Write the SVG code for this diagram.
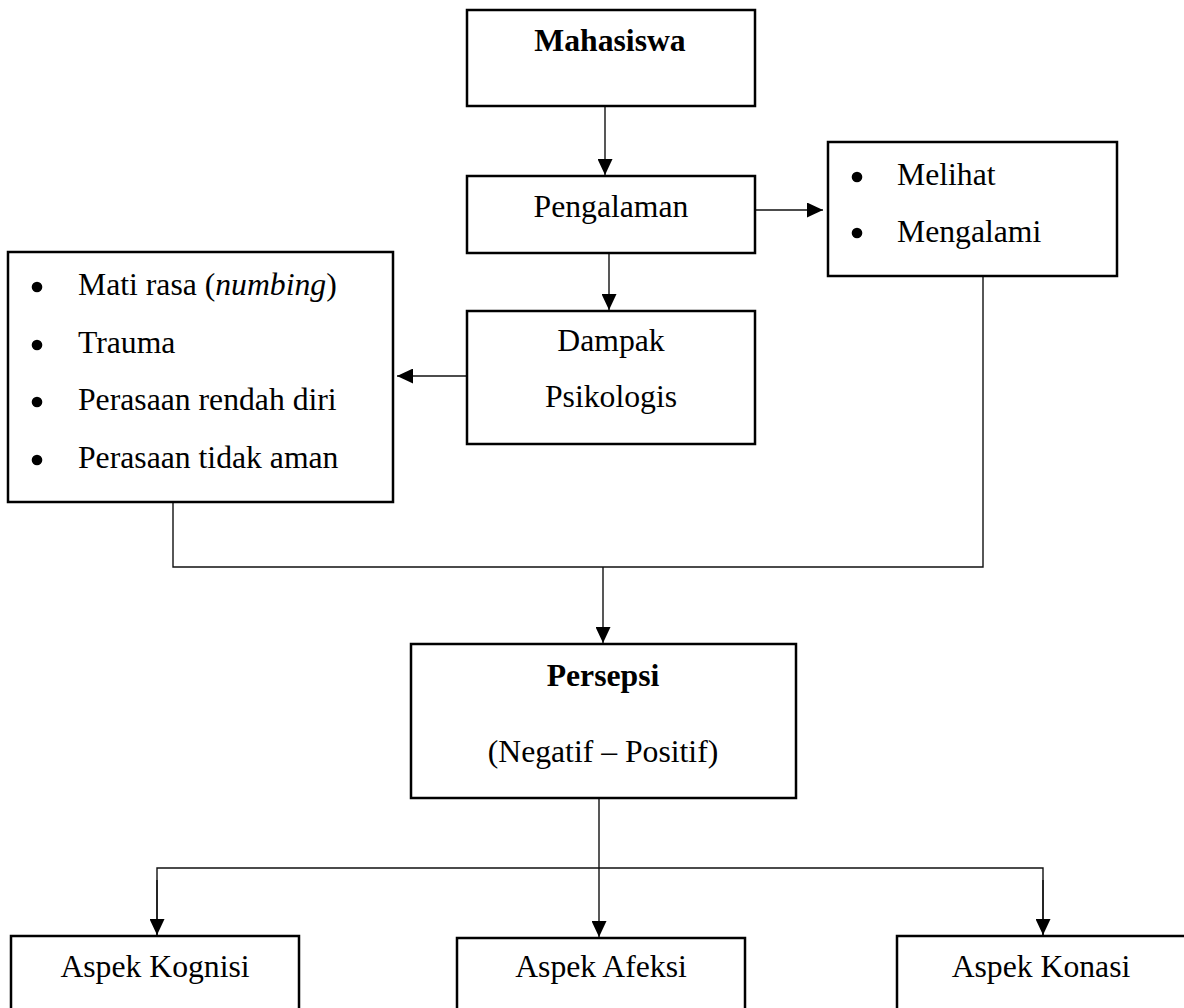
<svg xmlns="http://www.w3.org/2000/svg" width="1184" height="1008" viewBox="0 0 1184 1008">
<defs>
<style>
.box{fill:#fff;stroke:#000;stroke-width:2.5}
.t{font-family:"Liberation Serif","Times New Roman",serif;font-size:31.7px;fill:#000}
.c{text-anchor:middle}
.b{font-weight:bold}
.ln{fill:none;stroke:#111;stroke-width:1.4}
.dot{fill:#000}
</style>
<marker id="ah" markerUnits="userSpaceOnUse" markerWidth="16" markerHeight="15" refX="16" refY="7.5" orient="auto">
<path d="M0,0 L16,7.5 L0,15 z" fill="#000"/>
</marker>
</defs>
<rect width="1184" height="1008" fill="#fff"/>
<g id="connectors">
<line class="ln" x1="605" y1="106" x2="605" y2="175" marker-end="url(#ah)"/>
<line class="ln" x1="609" y1="253" x2="609" y2="310" marker-end="url(#ah)"/>
<line class="ln" x1="755" y1="210" x2="823" y2="210" marker-end="url(#ah)"/>
<line class="ln" x1="466" y1="376" x2="397" y2="376" marker-end="url(#ah)"/>
<polyline class="ln" points="173,502 173,567 983,567 983,276"/>
<line class="ln" x1="603" y1="567" x2="603" y2="643" marker-end="url(#ah)"/>
<line class="ln" x1="599" y1="798" x2="599" y2="937" marker-end="url(#ah)"/>
<polyline class="ln" points="157,935 157,868 1043,868 1043,935"/>
<line class="ln" x1="157" y1="880" x2="157" y2="935" marker-end="url(#ah)"/>
<line class="ln" x1="1043" y1="880" x2="1043" y2="935" marker-end="url(#ah)"/>
</g>
<g id="mahasiswa">
<rect class="box" x="467" y="10" width="288" height="96"/>
<text class="t c b" x="610" y="51">Mahasiswa</text>
</g>
<g id="pengalaman">
<rect class="box" x="467" y="176" width="288" height="77"/>
<text class="t c" x="611" y="217">Pengalaman</text>
</g>
<g id="melihat">
<rect class="box" x="828" y="142" width="289" height="134"/>
<circle class="dot" cx="857" cy="177" r="5.3"/>
<text class="t" x="897" y="185">Melihat</text>
<circle class="dot" cx="857" cy="233" r="5.3"/>
<text class="t" x="897" y="242">Mengalami</text>
</g>
<g id="dampak">
<rect class="box" x="467" y="311" width="288" height="133"/>
<text class="t c" x="611" y="351">Dampak</text>
<text class="t c" x="611" y="407">Psikologis</text>
</g>
<g id="efek">
<rect class="box" x="8" y="252" width="385" height="250"/>
<circle class="dot" cx="37" cy="287" r="5.3"/>
<text class="t" x="78" y="295">Mati rasa (<tspan font-style="italic">numbing</tspan>)</text>
<circle class="dot" cx="37" cy="345" r="5.3"/>
<text class="t" x="78" y="353">Trauma</text>
<circle class="dot" cx="37" cy="402" r="5.3"/>
<text class="t" x="78" y="410">Perasaan rendah diri</text>
<circle class="dot" cx="37" cy="460" r="5.3"/>
<text class="t" x="78" y="468">Perasaan tidak aman</text>
</g>
<g id="persepsi">
<rect class="box" x="411" y="644" width="385" height="154"/>
<text class="t c b" x="603" y="686">Persepsi</text>
<text class="t c" x="603" y="762">(Negatif – Positif)</text>
</g>
<g id="kognisi">
<rect class="box" x="11" y="936" width="288" height="100"/>
<text class="t c" x="155" y="977">Aspek Kognisi</text>
</g>
<g id="afeksi">
<rect class="box" x="457" y="938" width="288" height="100"/>
<text class="t c" x="601" y="977">Aspek Afeksi</text>
</g>
<g id="konasi">
<rect class="box" x="897" y="936" width="300" height="100"/>
<text class="t c" x="1041" y="977">Aspek Konasi</text>
</g>
</svg>
